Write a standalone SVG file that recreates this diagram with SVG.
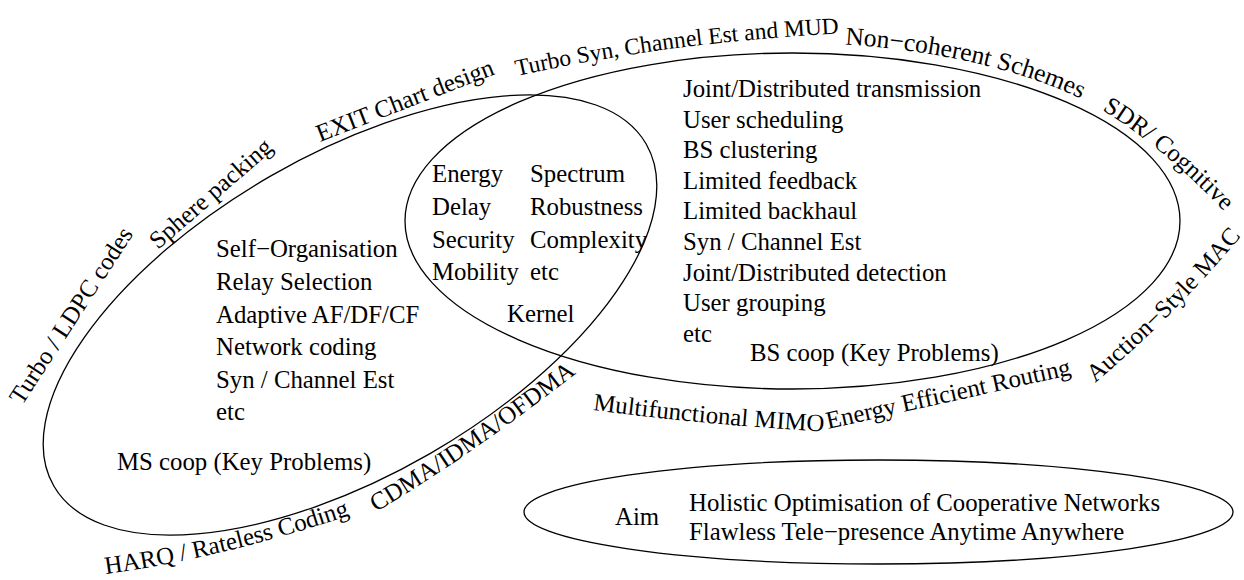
<svg xmlns="http://www.w3.org/2000/svg" width="1244" height="580" viewBox="0 0 1244 580">
<defs>
<style>
.shape{fill:none;stroke:#000;stroke-width:1.3}
text{font-family:"Liberation Serif","Times New Roman",serif;font-size:24.8px;fill:#000}
.sm{font-size:23.5px}
.lg{font-size:25.5px}
</style>
<path id="p-turbo" d="M22,406 L146,215"/>
<path id="p-sphere" d="M158,250 L301.4,125.4"/>
<path id="p-exit" d="M320,142 L516,66"/>
<path id="p-tsyn" d="M517,76 Q683.8,38.6 880.7,31.7"/>
<path id="p-noncoh" d="M845,44.6 A397.5,178 0 0 1 1118.1,118.9"/>
<path id="p-sdr" d="M1102,110 Q1166,148 1240,228"/>
<path id="p-auction" d="M1095,383 Q1173.5,317.1 1250,226"/>
<path id="p-energy" d="M828,429 L1110,366"/>
<path id="p-multi" d="M593,410 Q712,426 850,433"/>
<path id="p-cdma" d="M376,512 Q478,452 606,350"/>
<path id="p-harq" d="M106,574 Q230,557 368,509"/>
</defs>
<rect width="1244" height="580" fill="#fff"/>

<g id="ms-coop">
<ellipse class="shape" cx="350" cy="315" rx="342" ry="160" transform="rotate(-30 350 315)"/>
<text x="216" y="257">Self−Organisation</text>
<text x="216" y="290">Relay Selection</text>
<text x="216" y="323">Adaptive AF/DF/CF</text>
<text x="216" y="355">Network coding</text>
<text x="216" y="388">Syn / Channel Est</text>
<text x="216" y="420">etc</text>
<text x="117" y="470">MS coop (Key Problems)</text>
</g>

<g id="bs-coop">
<ellipse class="shape" cx="792.5" cy="221" rx="387.5" ry="168"/>
<text x="683" y="97">Joint/Distributed transmission</text>
<text x="683" y="128">User scheduling</text>
<text x="683" y="158">BS clustering</text>
<text x="683" y="189">Limited feedback</text>
<text x="683" y="219">Limited backhaul</text>
<text x="683" y="250">Syn / Channel Est</text>
<text x="683" y="281">Joint/Distributed detection</text>
<text x="683" y="311">User grouping</text>
<text x="683" y="342">etc</text>
<text x="750" y="361">BS coop (Key Problems)</text>
</g>

<g id="kernel">
<text x="432" y="182">Energy</text>
<text x="432" y="215">Delay</text>
<text x="432" y="248">Security</text>
<text x="432" y="280">Mobility</text>
<text x="530" y="182">Spectrum</text>
<text x="530" y="215">Robustness</text>
<text x="530" y="248">Complexity</text>
<text x="530" y="280">etc</text>
<text x="507" y="322">Kernel</text>
</g>

<g id="aim">
<ellipse class="shape" cx="878.5" cy="512" rx="354.5" ry="52"/>
<text x="615" y="525">Aim</text>
<text x="689" y="511">Holistic Optimisation of Cooperative Networks</text>
<text x="689" y="540">Flawless Tele−presence Anytime Anywhere</text>
</g>

<g id="outer-labels">
<text><textPath href="#p-turbo">Turbo / LDPC codes</textPath></text>
<text><textPath href="#p-sphere">Sphere packing</textPath></text>
<text><textPath href="#p-exit">EXIT Chart design</textPath></text>
<text class="sm"><textPath href="#p-tsyn">Turbo Syn, Channel Est and MUD</textPath></text>
<text class="lg"><textPath href="#p-noncoh">Non−coherent Schemes</textPath></text>
<text><textPath href="#p-sdr">SDR/ Cognitive</textPath></text>
<text><textPath href="#p-auction">Auction−Style MAC</textPath></text>
<text><textPath href="#p-energy">Energy Efficient Routing</textPath></text>
<text><textPath href="#p-multi">Multifunctional MIMO</textPath></text>
<text><textPath href="#p-cdma">CDMA/IDMA/OFDMA</textPath></text>
<text><textPath href="#p-harq">HARQ / Rateless Coding</textPath></text>
</g>
</svg>
